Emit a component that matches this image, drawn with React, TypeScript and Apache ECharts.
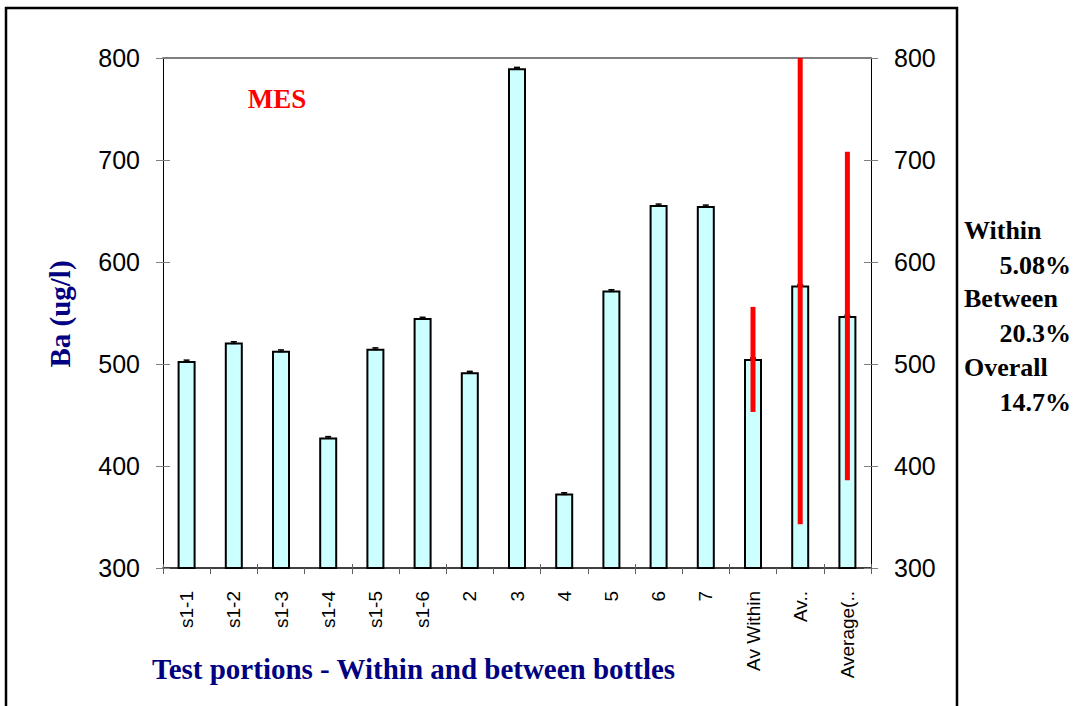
import React, { useEffect, useRef } from "react";
import * as echarts from "echarts";

const categories = ["s1-1", "s1-2", "s1-3", "s1-4", "s1-5", "s1-6", "2", "3", "4", "5", "6", "7", "Av Within", "Av..", "Average(.."];
const values = [503, 521, 513, 428, 515, 545, 492, 790, 373, 572, 656, 655, 505, 577, 547];
const errors = [0.8, 0.8, 0.8, 0.8, 0.8, 0.8, 0.8, 0.8, 0.8, 0.8, 0.8, 0.8, 0.8, 0.8, 0.8];
const rangeCategories = ["Av Within", "Av..", "Average(.."];
const rangeLow = [453, 343, 386];
const rangeHigh = [556, 811, 708];
const yTicks = { min: 300, max: 800, interval: 100 };
const statsLines = [
  { label: "Within", value: "5.08%" },
  { label: "Between", value: "20.3%" },
  { label: "Overall", value: "14.7%" },
];

const SERIF = "'Liberation Serif', 'Times New Roman', serif";
const SANS = "'Liberation Sans', Arial, sans-serif";

export default function App() {
  const ref = useRef<HTMLDivElement>(null);
  useEffect(() => {
    if (!ref.current) return;
    const chart = echarts.init(ref.current, null, { renderer: "svg" });

    const errData = values.map((v, i) => [i, v, errors[i]]);
    const rangeData = rangeCategories.map((c, i) => [categories.indexOf(c), rangeLow[i], rangeHigh[i]]);

    const statsGraphics: any[] = [];
    statsLines.forEach((s, i) => {
      statsGraphics.push({
        type: "text",
        x: 964,
        y: 230 + i * 68.5,
        style: { text: s.label, font: `bold 26px ${SERIF}`, fill: "#000", align: "left", verticalAlign: "middle" },
      });
      statsGraphics.push({
        type: "text",
        x: 1071,
        y: 265 + i * 68.5,
        style: { text: s.value, font: `bold 26px ${SERIF}`, fill: "#000", align: "right", verticalAlign: "middle" },
      });
    });

    const yBase = (position: string, show: boolean, inside: boolean) => ({
      type: "value",
      position,
      min: yTicks.min,
      max: yTicks.max,
      interval: yTicks.interval,
      axisLine: { show, lineStyle: { color: "#000", width: 1 } },
      axisTick: { show: true, inside, length: 7, lineStyle: { color: "#808080", width: 1 } },
      axisLabel: { show, color: "#000", fontSize: 25, fontFamily: SANS, margin: 23 },
      splitLine: { show: false },
    });

    chart.setOption({
      animation: false,
      grid: { left: 163, top: 58, right: 206, bottom: 138, containLabel: false },
      xAxis: [
        {
          type: "category",
          data: categories,
          position: "bottom",
          axisLine: { show: true, lineStyle: { color: "#000", width: 1.5 } },
          axisTick: { show: true, inside: false, length: 6, lineStyle: { color: "#606060", width: 1 } },
          axisLabel: { interval: 0, rotate: 90, fontSize: 19, fontFamily: SANS, color: "#000", margin: 23 },
          splitLine: { show: false },
        },
        {
          type: "category",
          data: categories,
          position: "bottom",
          axisLine: { show: false },
          axisTick: { show: true, inside: true, length: 4, lineStyle: { color: "#606060", width: 1 } },
          axisLabel: { show: false },
          splitLine: { show: false },
        },
        {
          type: "category",
          data: categories,
          position: "top",
          axisLine: { show: true, lineStyle: { color: "#808080", width: 2 } },
          axisTick: { show: false },
          axisLabel: { show: false },
          splitLine: { show: false },
        },
      ],
      yAxis: [
        yBase("left", true, false),
        yBase("right", true, false),
        yBase("left", false, true),
        yBase("right", false, true),
      ],
      series: [
        {
          type: "bar",
          xAxisIndex: 0,
          yAxisIndex: 0,
          data: values,
          barWidth: 18,
          itemStyle: { color: "#CCFFFF", borderColor: "#000", borderWidth: 2 },
          z: 2,
        },
        {
          type: "custom",
          xAxisIndex: 0,
          yAxisIndex: 0,
          data: errData,
          z: 3,
          renderItem: (params: any, api: any) => {
            const x = api.value(0);
            const v = api.value(1);
            const e = api.value(2);
            const top = api.coord([x, v + e]);
            const bot = api.coord([x, v - e]);
            const hw = 3;
            const st = { stroke: "#000", lineWidth: 1.5 };
            return {
              type: "group",
              children: [
                { type: "line", shape: { x1: top[0], y1: top[1], x2: bot[0], y2: bot[1] }, style: st },
                { type: "line", shape: { x1: top[0] - hw, y1: top[1], x2: top[0] + hw, y2: top[1] }, style: st },
                { type: "line", shape: { x1: bot[0] - hw, y1: bot[1], x2: bot[0] + hw, y2: bot[1] }, style: st },
              ],
            };
          },
        },
        {
          type: "custom",
          xAxisIndex: 0,
          yAxisIndex: 0,
          data: rangeData,
          z: 4,
          renderItem: (params: any, api: any) => {
            const x = api.value(0);
            const lo = api.value(1);
            const hi = Math.min(api.value(2), yTicks.max);
            const p1 = api.coord([x, hi]);
            const p2 = api.coord([x, lo]);
            return {
              type: "rect",
              shape: { x: p1[0] - 2.5, y: p1[1], width: 5, height: p2[1] - p1[1] },
              style: { fill: "#FF0000" },
            };
          },
        },
      ],
      graphic: [
        {
          type: "rect",
          shape: { x: 6, y: 8, width: 951, height: 720 },
          style: { fill: "none", stroke: "#000", lineWidth: 2.5 },
          silent: true,
          z: 0,
        },
        {
          type: "text",
          x: 277,
          y: 99,
          style: { text: "MES", font: `bold 27px ${SERIF}`, fill: "#FF0000", align: "center", verticalAlign: "middle" },
        },
        {
          type: "text",
          x: 60,
          y: 314,
          rotation: Math.PI / 2,
          style: { text: "Ba (ug/l)", font: `bold 29px ${SERIF}`, fill: "#000080", align: "center", verticalAlign: "middle" },
        },
        {
          type: "text",
          x: 152,
          y: 669,
          style: {
            text: "Test portions - Within and between bottles",
            font: `bold 29px ${SERIF}`,
            fill: "#000080",
            align: "left",
            verticalAlign: "middle",
          },
        },
        ...statsGraphics,
      ],
    });
    return () => chart.dispose();
  }, []);
  return (
    <div style={{ position: "fixed", left: 0, top: 0, width: 1077, height: 706, background: "#fff" }}>
      <div ref={ref} style={{ width: 1077, height: 706 }} />
    </div>
  );
}
